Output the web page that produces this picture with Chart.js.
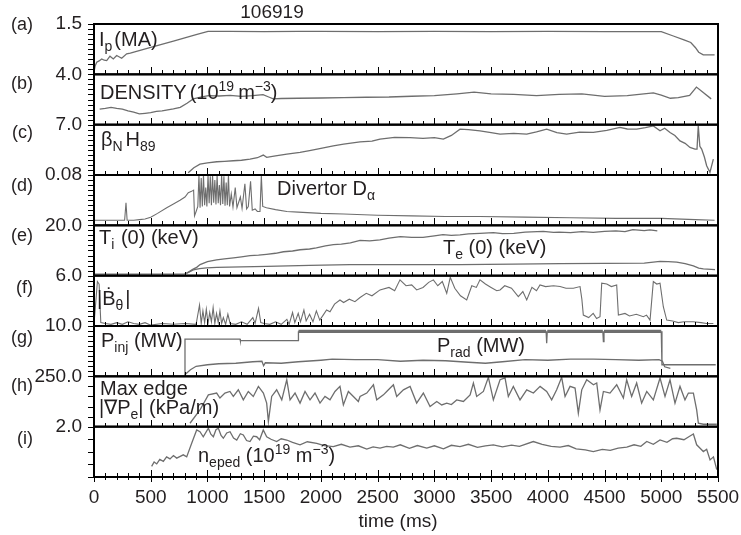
<!DOCTYPE html>
<html>
<head>
<meta charset="utf-8">
<title>Shot 106919</title>
<script src="https://cdn.jsdelivr.net/npm/chart.js@4.4.1/dist/chart.umd.min.js"></script>
<style>
  html, body { margin: 0; padding: 0; background: #fff; }
</style>
</head>
<body>
<canvas id="chShot" width="741" height="535"></canvas>
<script>
/* shot 106919 time traces, 9 stacked panels */

var FONT = '"Liberation Sans", Arial, Helvetica, sans-serif';
var ink = '#231f20';
var trace = '#6e6e6e';

// panels, top to bottom
var panelIds = ['ya', 'yb', 'yc', 'yd', 'ye', 'yf', 'yg', 'yh', 'yi'];
var panelTags = ['(a)', '(b)', '(c)', '(d)', '(e)', '(f)', '(g)', '(h)', '(i)'];
var panelMax = [1.5, 4.0, 7.0, 0.08, 20, 6, 10, 250, 2];
var panelTop = ['1.5', '4.0', '7.0', '0.08', '20.0', '6.0', '10.0', '250.0', '2.0'];
var panelDivs = [10, 10, 10, 10, 10, 10, 10, 5, 4];

// (a) plasma current, MA
var ipT = [0, 10, 24, 45, 68, 90, 112, 141, 170, 200, 244, 288, 320, 500, 700, 900, 1005, 1200, 1500, 1800,
  2000, 2500, 3000, 3500, 4000, 4500, 5000, 5100, 5200, 5260, 5300, 5330, 5370, 5470];
var ipV = [0.07, 0.25, 0.36, 0.40, 0.46, 0.42, 0.41, 0.54, 0.46, 0.56, 0.48, 0.61, 0.63, 0.80, 0.99, 1.18, 1.28, 1.28, 1.27, 1.28,
  1.28, 1.27, 1.28, 1.27, 1.28, 1.27, 1.27, 1.15, 1.03, 0.95, 0.80, 0.66, 0.58, 0.58];

// (b) line density, 1e19 m^-3
var dnT = [50, 100, 150, 200, 250, 300, 350, 400, 450, 500, 550, 600, 650, 700, 760, 820, 875, 950, 1010, 1100,
  1200, 1300, 1400, 1490, 1540, 1580, 1650, 1800, 2000, 2200, 2400, 2600, 2800, 3000, 3200, 3350, 3500, 3700, 3900, 4100,
  4300, 4500, 4700, 4930, 5000, 5080, 5150, 5250, 5310, 5370, 5440];
var dnV = [1.24, 1.30, 1.38, 1.30, 1.24, 1.10, 1.00, 0.86, 0.90, 0.95, 1.05, 1.10, 1.18, 1.25, 1.38, 1.70, 2.05, 2.20, 2.31, 2.28,
  2.33, 2.25, 2.30, 2.38, 2.20, 2.05, 2.08, 2.10, 2.12, 2.15, 2.18, 2.20, 2.26, 2.30, 2.45, 2.58, 2.45, 2.40, 2.31, 2.40,
  2.45, 2.25, 2.30, 2.52, 2.35, 2.10, 2.15, 2.32, 2.99, 2.55, 2.05];

// (c) betaN * H89
var bhT = [830, 880, 934, 1000, 1082, 1150, 1228, 1300, 1375, 1440, 1492, 1522, 1600, 1700, 1816, 1900, 2000, 2109, 2200, 2345,
  2450, 2521, 2650, 2785, 2900, 3000, 3079, 3150, 3226, 3300, 3402, 3500, 3579, 3700, 3814, 3900, 3990, 4080, 4166, 4280,
  4401, 4520, 4636, 4700, 4784, 4860, 4930, 4989, 5030, 5077, 5120, 5165, 5210, 5253, 5297, 5315, 5326, 5340, 5356, 5380,
  5400, 5429, 5459];
var bhV = [0.3, 1.0, 1.52, 1.70, 1.84, 1.90, 1.98, 2.05, 2.22, 2.40, 2.77, 2.45, 2.65, 2.90, 3.15, 3.40, 3.70, 4.06, 4.30, 4.60,
  4.70, 4.99, 5.23, 5.20, 5.10, 5.20, 4.99, 5.50, 6.38, 6.30, 6.14, 5.90, 5.68, 5.80, 5.68, 6.00, 6.38, 5.90, 5.68, 5.95,
  5.92, 6.20, 6.61, 6.40, 6.38, 6.60, 6.83, 6.14, 6.50, 5.92, 5.50, 4.75, 4.40, 3.84, 3.60, 3.60, 6.85, 4.00, 3.60, 2.50,
  1.29, 0.37, 2.22];

// (d) divertor D-alpha
var daT = [0, 100, 200, 270, 282, 292, 350, 400, 450, 500, 560, 641, 700, 758, 802, 831, 860, 878, 886, 900,
  915, 925, 935, 945, 955, 965, 975, 985, 995, 1005, 1015, 1025, 1035, 1045, 1055, 1065, 1075, 1085, 1095, 1105,
  1115, 1125, 1135, 1145, 1155, 1165, 1175, 1185, 1195, 1210, 1225, 1245, 1260, 1290, 1305, 1330, 1345, 1360, 1380, 1395,
  1420, 1440, 1463, 1475, 1487, 1520, 1600, 1700, 1800, 2000, 2200, 2500, 2800, 3100, 3400, 3800, 4200, 4600, 5000, 5300,
  5470];
var daV = [0.008, 0.008, 0.008, 0.008, 0.036, 0.008, 0.008, 0.009, 0.010, 0.013, 0.019, 0.028, 0.034, 0.040, 0.045, 0.052, 0.054, 0.056, 0.015, 0.022,
  0.030, 0.080, 0.028, 0.075, 0.030, 0.080, 0.032, 0.060, 0.030, 0.080, 0.035, 0.078, 0.032, 0.080, 0.036, 0.072, 0.033, 0.080, 0.035, 0.064,
  0.032, 0.080, 0.034, 0.078, 0.031, 0.068, 0.032, 0.080, 0.030, 0.050, 0.029, 0.060, 0.028, 0.045, 0.027, 0.066, 0.026, 0.030, 0.070, 0.024,
  0.026, 0.022, 0.022, 0.079, 0.030, 0.028, 0.025, 0.022, 0.021, 0.019, 0.018, 0.016, 0.015, 0.014, 0.014, 0.013, 0.012, 0.011, 0.011, 0.009,
  0.008];

// (e) central ion / electron temperature, keV
var tiT = [820, 870, 905, 935, 1000, 1080, 1150, 1230, 1300, 1375, 1450, 1520, 1600, 1670, 1750, 1816, 1900, 1960, 2040, 2110,
  2180, 2260, 2345, 2430, 2520, 2600, 2700, 2800, 2900, 3000, 3076, 3150, 3226, 3300, 3400, 3520, 3600, 3700, 3800, 3960,
  4050, 4100, 4200, 4300, 4400, 4500, 4600, 4680, 4750, 4850, 4900, 4965];
var tiV = [1.0, 2.5, 3.3, 4.4, 5.6, 6.3, 6.7, 7.1, 7.5, 8.0, 8.2, 8.5, 8.9, 9.5, 9.8, 10.3, 10.6, 11.0, 11.8, 12.3,
  12.5, 13.0, 14.0, 13.8, 14.2, 14.9, 15.5, 15.2, 15.2, 15.8, 16.3, 16.0, 16.2, 16.6, 16.8, 17.1, 16.7, 16.8, 17.3, 17.6,
  17.2, 17.3, 17.1, 17.5, 17.2, 17.6, 17.8, 17.5, 18.3, 17.9, 18.2, 17.8];
var teT = [0, 400, 800, 840, 875, 930, 993, 1082, 1300, 1522, 1900, 2256, 2521, 2900, 3226, 3700, 4108, 4500, 4850, 4989,
  5060, 5136, 5210, 5283, 5330, 5371, 5474];
var teV = [0.6, 0.6, 0.7, 1.5, 2.3, 2.8, 3.1, 3.3, 3.5, 3.7, 4.1, 4.4, 4.4, 4.4, 4.4, 4.6, 4.8, 4.9, 5.0, 5.7,
  5.6, 5.4, 4.8, 3.9, 3.0, 2.7, 2.4];

// (f) |dB_theta/dt|
var bdT = [0, 30, 45, 60, 100, 150, 200, 250, 300, 350, 400, 450, 500, 600, 700, 800, 900, 930, 945, 960,
  975, 990, 1005, 1020, 1035, 1050, 1065, 1080, 1095, 1110, 1125, 1140, 1160, 1180, 1200, 1250, 1300, 1350, 1400, 1420,
  1450, 1470, 1500, 1550, 1600, 1650, 1700, 1720, 1750, 1770, 1800, 1820, 1850, 1870, 1900, 1930, 1960, 1990, 2020, 2050,
  2080, 2120, 2168, 2200, 2250, 2300, 2345, 2400, 2450, 2521, 2600, 2650, 2697, 2750, 2800, 2844, 2900, 2950, 2991, 3030,
  3070, 3109, 3140, 3180, 3230, 3285, 3330, 3370, 3402, 3450, 3500, 3550, 3579, 3620, 3680, 3740, 3780, 3814, 3860, 3900,
  3931, 3980, 4050, 4108, 4160, 4225, 4284, 4300, 4313, 4360, 4400, 4430, 4460, 4475, 4520, 4560, 4607, 4622, 4680, 4720,
  4780, 4842, 4870, 4901, 4930, 4960, 4989, 5018, 5048, 5100, 5150, 5200, 5283, 5350, 5400, 5459];
var bdV = [0.2, 5.3, 5.0, 0.4, 0.3, 0.2, 0.4, 0.2, 0.5, 0.3, 0.2, 0.4, 0.1, 0.3, 0.2, 0.3, 0.2, 2.5, 0.3, 1.8,
  0.4, 2.0, 0.3, 1.6, 0.5, 2.2, 0.3, 1.5, 0.4, 1.8, 0.3, 1.0, 0.2, 1.4, 0.3, 0.2, 0.5, 0.2, 1.0, 0.3,
  2.1, 0.4, 0.3, 0.2, 0.5, 0.2, 0.8, 0.2, 1.6, 0.4, 1.5, 0.5, 1.9, 0.6, 1.4, 0.5, 1.8, 0.7, 1.3, 1.9,
  1.7, 2.6, 3.1, 2.8, 3.2, 2.9, 3.4, 3.9, 3.6, 4.3, 4.6, 4.2, 5.5, 4.8, 4.9, 4.3, 4.6, 5.2, 5.5, 4.8,
  5.3, 3.9, 5.8, 4.5, 3.6, 3.1, 4.8, 4.6, 5.5, 5.0, 4.6, 4.2, 4.3, 4.8, 4.5, 3.5, 4.1, 3.1, 4.6, 4.2,
  4.9, 4.7, 4.8, 4.7, 4.5, 4.5, 4.7, 3.2, 1.3, 1.0, 1.5, 0.9, 1.1, 5.1, 5.0, 4.7, 4.9, 1.3, 1.5, 1.2,
  1.4, 1.1, 1.3, 0.7, 5.3, 5.0, 5.1, 2.3, 0.7, 0.6, 0.4, 0.5, 0.5, 0.4, 0.3, 0.3];

// (g) injected and radiated power, MW
var pjT = [0, 800, 802, 1287, 1290, 1799, 1802, 3985, 3990, 3995, 4485, 4490, 4495, 5000, 5006, 5480];
var pjV = [0, 0, 7.4, 7.4, 7.1, 7.1, 8.95, 8.95, 6.6, 8.95, 8.95, 6.9, 8.95, 8.95, 2.3, 2.3];
var prT = [800, 850, 900, 1000, 1100, 1250, 1400, 1480, 1495, 1510, 1650, 1800, 2000, 2100, 2300, 2500, 2700, 2900, 3100, 3300,
  3450, 3600, 3800, 4000, 4200, 4400, 4600, 4800, 4980, 5010, 5030, 5080];
var prV = [0.3, 1.3, 2.0, 2.3, 2.5, 2.6, 2.9, 3.0, 2.1, 2.7, 2.6, 2.9, 3.2, 3.4, 3.3, 3.3, 3.0, 3.2, 3.1, 2.8,
  2.6, 2.9, 3.3, 3.2, 3.4, 3.4, 3.3, 3.2, 3.3, 3.0, 1.9, 1.6];

// (h) max edge |grad Pe|, kPa/m
var egT = [846, 934, 1008, 1081, 1110, 1154, 1198, 1228, 1272, 1316, 1360, 1404, 1449, 1493, 1522, 1537, 1566, 1610, 1655, 1699,
  1728, 1772, 1816, 1860, 1904, 1948, 1992, 2036, 2080, 2124, 2168, 2198, 2242, 2286, 2330, 2345, 2404, 2463, 2492, 2551,
  2580, 2639, 2668, 2727, 2786, 2844, 2903, 2962, 3021, 3065, 3109, 3150, 3197, 3256, 3315, 3344, 3373, 3432, 3476, 3520,
  3579, 3623, 3652, 3696, 3755, 3814, 3873, 3932, 3990, 4034, 4078, 4122, 4152, 4196, 4240, 4269, 4299, 4343, 4402, 4431,
  4460, 4490, 4548, 4607, 4666, 4695, 4739, 4783, 4827, 4872, 4930, 4989, 5033, 5077, 5121, 5165, 5209, 5239, 5283, 5312,
  5327, 5371, 5489];
var egV = [17, 83, 158, 167, 142, 167, 175, 150, 183, 133, 175, 150, 200, 167, 117, 25, 150, 183, 133, 233,
  133, 167, 117, 175, 133, 167, 117, 150, 133, 175, 200, 108, 175, 150, 125, 150, 167, 208, 133, 158,
  175, 208, 150, 183, 200, 117, 167, 100, 125, 108, 117, 110, 133, 125, 158, 217, 150, 175, 245, 133,
  233, 242, 150, 200, 133, 183, 167, 200, 175, 133, 183, 245, 150, 200, 192, 67, 183, 233, 208, 217,
  83, 175, 167, 208, 142, 233, 150, 217, 117, 175, 133, 242, 150, 233, 117, 200, 133, 167, 167, 83,
  17, 12, 12];

// (i) pedestal density, 1e19 m^-3
var neT = [508, 530, 553, 580, 611, 640, 670, 700, 729, 760, 787, 817, 861, 905, 934, 963, 1008, 1030, 1052, 1075,
  1096, 1120, 1140, 1170, 1199, 1230, 1258, 1290, 1316, 1345, 1375, 1405, 1434, 1460, 1492, 1522, 1560, 1610, 1650, 1699,
  1750, 1816, 1880, 1963, 2030, 2109, 2180, 2256, 2330, 2404, 2460, 2521, 2580, 2638, 2700, 2780, 2850, 2933, 3000, 3080,
  3150, 3226, 3300, 3380, 3450, 3520, 3600, 3680, 3750, 3872, 3950, 4030, 4108, 4180, 4250, 4330, 4401, 4480, 4550, 4620,
  4696, 4760, 4820, 4872, 4930, 4989, 5050, 5100, 5136, 5200, 5250, 5283, 5312, 5340, 5371, 5400, 5430, 5460, 5489];
var neV = [0.42, 0.60, 0.52, 0.70, 0.62, 0.80, 0.72, 0.85, 0.75, 0.82, 0.88, 0.80, 1.34, 1.87, 1.80, 1.60, 1.94, 1.70, 1.60, 1.88,
  1.94, 1.65, 1.54, 1.75, 1.80, 1.55, 1.47, 1.72, 1.67, 1.45, 1.41, 1.62, 1.60, 1.48, 1.87, 1.60, 1.50, 1.41, 1.52, 1.47,
  1.38, 1.28, 1.40, 1.34, 1.25, 1.21, 1.30, 1.19, 1.24, 1.11, 1.20, 1.15, 1.22, 1.19, 1.28, 1.14, 1.25, 1.15, 1.24, 1.12,
  1.26, 1.21, 1.30, 1.18, 1.24, 1.28, 1.20, 1.27, 1.22, 1.41, 1.30, 1.22, 1.19, 1.25, 1.12, 1.08, 1.01, 1.10, 1.06, 1.15,
  1.19, 1.28, 1.22, 1.41, 1.30, 1.47, 1.38, 1.52, 1.54, 1.48, 1.62, 1.71, 1.28, 1.15, 1.01, 1.10, 0.68, 0.80, 0.29];

function series(ts, vs, axis, extra) {
  return Object.assign({
    data: ts.map(function (t, i) { return {x: t, y: vs[i]}; }),
    yAxisID: axis,
    borderColor: trace,
    borderWidth: 1.3,
    pointRadius: 0,
    fill: false,
    tension: 0
  }, extra || {});
}

// panel text, parts drawn one after another (sub / sup are smaller)
var tagDy = [1, 10, 8, 11, 11, 12, 12, 10, 12];
var notes = [
  {p: 0, x: 99, dy: 22, parts: [{t: 'I'}, {t: 'p', s: 'sub'}, {t: '(MA)', g: 2}]},
  {p: 1, x: 100, dy: 25, parts: [{t: 'DENSITY'}, {t: '(10', g: 3}, {t: '19', s: 'sup'}, {t: 'm', g: 4}, {t: '\u22123', s: 'sup'}, {t: ')'}]},
  {p: 2, x: 101, dy: 21, parts: [{t: '\u03b2'}, {t: 'N', s: 'sub'}, {t: 'H', g: 3}, {t: '89', s: 'sub'}]},
  {p: 3, x: 277, dy: 20, parts: [{t: 'Divertor D'}, {t: '\u03b1', s: 'sub'}]},
  {p: 4, x: 99, dy: 18.5, parts: [{t: 'T'}, {t: 'i', s: 'sub'}, {t: ' (0) (keV)', g: 1}]},
  {p: 4, x: 443, dy: 29, parts: [{t: 'T'}, {t: 'e', s: 'sub'}, {t: ' (0) (keV)'}]},
  {p: 5, x: 97, dy: 29, parts: [{t: '|'}, {t: '\u1e02'}, {t: '\u03b8', s: 'sub'}, {t: '|', g: 2}]},
  {p: 6, x: 101, dy: 21, parts: [{t: 'P'}, {t: 'inj', s: 'sub'}, {t: ' (MW)'}]},
  {p: 6, x: 437, dy: 26, parts: [{t: 'P'}, {t: 'rad', s: 'sub'}, {t: ' (MW)'}]},
  {p: 7, x: 100, dy: 19, parts: [{t: 'Max edge'}]},
  {p: 7, x: 99, dy: 38, parts: [{t: '|\u2207P'}, {t: 'e', s: 'sub'}, {t: '| (kPa/m)'}]},
  {p: 8, x: 198, dy: 35, parts: [{t: 'n'}, {t: 'eped', s: 'sub'}, {t: ' (10'}, {t: '19', s: 'sup'}, {t: ' m'}, {t: '\u22123', s: 'sup'}, {t: ')'}]}
];

function drawRich(ctx, x, y, parts) {
  parts.forEach(function (p) {
    var small = p.s === 'sub' || p.s === 'sup';
    ctx.font = (small ? 14 : 20) + 'px ' + FONT;
    x += p.g || 0;
    var dy = p.s === 'sub' ? 5 : (p.s === 'sup' ? -8 : 0);
    ctx.fillText(p.t, x, y + dy);
    x += ctx.measureText(p.t).width;
  });
}

// frames, tick marks and all labels
var panelDecor = {
  id: 'panelDecor',
  afterDraw: function (chart) {
    var ctx = chart.ctx, area = chart.chartArea, xs = chart.scales.x;
    var left = Math.round(area.left);
    ctx.save();
    ctx.fillStyle = '#000';
    panelIds.forEach(function (id, k) {
      var s = chart.scales[id];
      var floor = Math.round(s.bottom);
      var span = s.bottom - s.top;
      // time ticks, pointing up from each panel floor
      for (var t = 0; t <= 5500; t += 100) {
        var px = Math.round(xs.getPixelForValue(t));
        var major = t % 500 === 0;
        ctx.fillRect(px, floor - (major ? 7 : 4), 1, major ? 7 : 4);
        if (k === panelIds.length - 1) {
          ctx.fillRect(px, floor, 1, major ? 5 : 3);
        }
      }
      // value ticks, pointing out of the left edge
      for (var j = 0; j <= panelDivs[k]; j++) {
        var py = Math.round(s.top + span * j / panelDivs[k]);
        ctx.fillRect(left - 6, py, 6, 1);
      }
    });
    ctx.strokeStyle = '#000';
    ctx.lineWidth = 2;
    panelIds.forEach(function (id) {
      var s = chart.scales[id];
      ctx.strokeRect(area.left, s.top, area.right - area.left, s.bottom - s.top);
    });

    ctx.fillStyle = ink;
    ctx.textAlign = 'right';
    ctx.textBaseline = 'middle';
    ctx.font = '18px ' + FONT;
    panelIds.forEach(function (id, k) {
      ctx.fillText(panelTags[k], 33, chart.scales[id].top + tagDy[k]);
    });

    ctx.textAlign = 'left';
    ctx.textBaseline = 'alphabetic';
    notes.forEach(function (n) {
      drawRich(ctx, n.x, chart.scales[panelIds[n.p]].top + n.dy, n.parts);
    });

    ctx.textAlign = 'center';
    ctx.font = '19px ' + FONT;
    ctx.fillText('106919', 272, 18);
    ctx.fillText('time (ms)', 398, 527);
    ctx.restore();
  }
};

var scales = {
  x: {
    type: 'linear', position: 'bottom', min: 0, max: 5500,
    ticks: {
      stepSize: 500, autoSkip: false, maxRotation: 0, padding: 9, color: ink, font: {size: 19},
      callback: function (v) { return String(v); }
    },
    grid: {drawOnChartArea: false, drawTicks: false},
    border: {display: false},
    afterFit: function (s) { s.height = 35; s.paddingLeft = 0; s.paddingRight = 0; }
  }
};

function yScale(k) {
  return {
    type: 'linear', position: 'left', stack: 'panels', stackWeight: 1,
    min: 0, max: panelMax[k],
    ticks: {
      count: panelDivs[k] + 1, autoSkip: false, padding: 12, color: ink, font: {size: 19},
      callback: function (v, i, all) { return i === all.length - 1 ? panelTop[k] : ''; }
    },
    grid: {drawOnChartArea: false, drawTicks: false},
    border: {display: true, color: '#000', width: 2},
    afterFit: function (s) { s.width = 94; s.paddingTop = 0; s.paddingBottom = 0; }
  };
}
// bottom panel first so that (a) ends up on top of the stack
for (var n = panelIds.length - 1; n >= 0; n--) {
  scales[panelIds[n]] = yScale(n);
}

Chart.defaults.font.family = FONT;
Chart.defaults.color = ink;

var chShot = document.getElementById('chShot');
if (chShot) {
  new Chart(chShot, {
    type: 'line',
    data: {
      datasets: [
        series(ipT, ipV, 'ya'),
        series(dnT, dnV, 'yb'),
        series(bhT, bhV, 'yc'),
        series(daT, daV, 'yd', {borderWidth: 1.1}),
        series(tiT, tiV, 'ye'),
        series(teT, teV, 'ye'),
        series(bdT, bdV, 'yf', {borderWidth: 1.1}),
        series(pjT, pjV, 'yg', {
          segment: {
            borderWidth: function (c) {
              return (c.p0.parsed.y > 8.5 && c.p1.parsed.y > 8.5 && c.p0.parsed.x >= 1802) ? 3.2 : 1.3;
            }
          }
        }),
        series(prT, prV, 'yg'),
        series(egT, egV, 'yh'),
        series(neT, neV, 'yi')
      ]
    },
    options: {
      responsive: false,
      animation: false,
      layout: {padding: {top: 24, right: 23, bottom: 23, left: 0}},
      plugins: {legend: {display: false}, tooltip: {enabled: false}},
      scales: scales
    },
    plugins: [panelDecor]
  });
}
</script>
</body>
</html>
